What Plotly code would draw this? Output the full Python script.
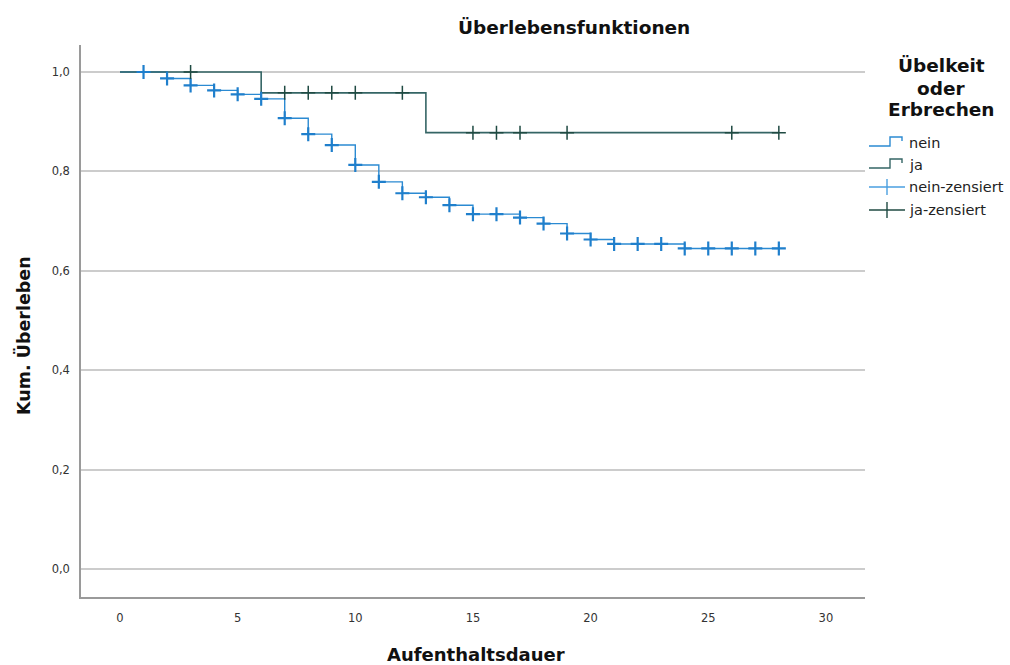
import plotly.graph_objects as go

# ---- data ----
nein_times = [0, 2, 3, 4, 5, 6, 7, 8, 9, 10, 11, 12, 13, 14, 15, 17, 18, 19, 20, 21, 24]
nein_surv = [1.0, 0.987, 0.973, 0.963, 0.955, 0.946, 0.907, 0.875, 0.853, 0.813, 0.779,
             0.756, 0.748, 0.732, 0.714, 0.707, 0.695, 0.675, 0.663, 0.654, 0.645]
nein_end = 28
nein_censored = [1, 2, 3, 4, 5, 6, 7, 8, 9, 10, 11, 12, 13, 14, 15, 16, 17, 18, 19, 20,
                 21, 22, 23, 24, 25, 26, 27, 28]

ja_times = [0, 6, 13]
ja_surv = [1.0, 0.958, 0.878]
ja_end = 28
ja_censored = [3, 7, 8, 9, 10, 12, 15, 16, 17, 19, 26, 28]

x_ticks = [0, 5, 10, 15, 20, 25, 30]
y_ticks = [0.0, 0.2, 0.4, 0.6, 0.8, 1.0]
legend_labels = ["nein", "ja", "nein-zensiert", "ja-zensiert"]

C_NEIN = "#2b8ad2"
C_NEIN_M = "#1f7fcc"
C_JA = "#356565"
C_JA_M = "#1f4a42"
FONT = "DejaVu Sans"


def surv_at(times, surv, t):
    val = surv[0]
    for ti, si in zip(times, surv):
        if ti <= t:
            val = si
    return val


fig = go.Figure()
fig.add_trace(go.Scatter(x=nein_times + [nein_end], y=nein_surv + [nein_surv[-1]],
                         mode="lines", line=dict(color=C_NEIN, width=1.4, shape="hv"),
                         name="nein", showlegend=False, hoverinfo="skip"))
fig.add_trace(go.Scatter(x=ja_times + [ja_end], y=ja_surv + [ja_surv[-1]],
                         mode="lines", line=dict(color=C_JA, width=1.6, shape="hv"),
                         name="ja", showlegend=False, hoverinfo="skip"))
fig.add_trace(go.Scatter(x=nein_censored,
                         y=[surv_at(nein_times, nein_surv, t) for t in nein_censored],
                         mode="markers",
                         marker=dict(symbol="cross-thin", size=10,
                                     line=dict(color=C_NEIN_M, width=2.2)),
                         name="nein-zensiert", showlegend=False))
fig.add_trace(go.Scatter(x=ja_censored,
                         y=[surv_at(ja_times, ja_surv, t) for t in ja_censored],
                         mode="markers",
                         marker=dict(symbol="cross-thin", size=10,
                                     line=dict(color=C_JA_M, width=1.5)),
                         name="ja-zensiert", showlegend=False))

# plot area in pixels
L, R, T, B = 81, 865, 45, 597
W, H = 1010, 665


def px(xp):
    return (xp - L) / (R - L)


def py(yp):
    return (B - yp) / (B - T)


shapes = []
annotations = []

# legend title
for i, line in enumerate(["Übelkeit", "oder", "Erbrechen"]):
    annotations.append(dict(x=px(941), y=py(66 + 22 * i), xref="paper", yref="paper",
                            text=f"<b>{line}</b>", showarrow=False,
                            font=dict(family=FONT, size=18.5, color="#111111"),
                            xanchor="center", yanchor="middle"))

# legend items
item_y = [143, 165, 187, 210]
icon_cols = [C_NEIN, C_JA, "#4a9fe0", C_JA_M]
for i, (lab, yy, col) in enumerate(zip(legend_labels, item_y, icon_cols)):
    annotations.append(dict(x=px(907), y=py(yy), xref="paper", yref="paper",
                            text=lab, showarrow=False,
                            font=dict(family=FONT, size=14.5, color="#222222"),
                            xanchor="left", yanchor="middle"))
    if i < 2:
        path = (f"M {px(869)},{py(yy + 3)} L {px(890)},{py(yy + 3)} "
                f"L {px(890)},{py(yy - 6)} L {px(902)},{py(yy - 6)} L {px(902)},{py(yy - 2)}")
        shapes.append(dict(type="path", path=path, xref="paper", yref="paper",
                           line=dict(color=col, width=1.4)))
    else:
        shapes.append(dict(type="line", x0=px(869), x1=px(905), y0=py(yy), y1=py(yy),
                           xref="paper", yref="paper", line=dict(color=col, width=1.4)))
        shapes.append(dict(type="line", x0=px(887), x1=px(887), y0=py(yy - 8), y1=py(yy + 8),
                           xref="paper", yref="paper", line=dict(color=col, width=1.4)))

# title
annotations.append(dict(x=px(574), y=py(28), xref="paper", yref="paper",
                        text="<b>Überlebensfunktionen</b>", showarrow=False,
                        font=dict(family=FONT, size=18.5, color="#111111"),
                        xanchor="center", yanchor="middle"))
# axis titles
annotations.append(dict(x=px(476), y=py(654), xref="paper", yref="paper",
                        text="<b>Aufenthaltsdauer</b>", showarrow=False,
                        font=dict(family=FONT, size=18, color="#111111"),
                        xanchor="center", yanchor="middle"))
annotations.append(dict(x=px(23), y=py(336), xref="paper", yref="paper",
                        text="<b>Kum. Überleben</b>", showarrow=False, textangle=-90,
                        font=dict(family=FONT, size=17.5, color="#111111"),
                        xanchor="center", yanchor="middle"))

x0 = -39 / 23.53
x1 = (865 - 120) / 23.53
y_top = 1 + (72 - 45) / 497
y_bot = -(597 - 569) / 497

fig.update_layout(
    width=W, height=H,
    margin=dict(l=L, r=W - R, t=T, b=H - B, pad=0),
    paper_bgcolor="white", plot_bgcolor="white",
    separators=",.",
    font=dict(family=FONT, size=11, color="#333333"),
    shapes=shapes, annotations=annotations,
    xaxis=dict(range=[x0, x1], tickvals=x_ticks, showgrid=False, zeroline=False,
               showline=True, linecolor="#9a9a9a", linewidth=1.5,
               ticks="outside", ticklen=9, tickcolor="rgba(0,0,0,0)",
               tickfont=dict(family=FONT, size=11.5, color="#333333")),
    yaxis=dict(range=[y_bot, y_top], tickvals=y_ticks, tickformat=".1f",
               showgrid=True, gridcolor="#cccccc", gridwidth=1.5, zeroline=False,
               showline=True, linecolor="#9a9a9a", linewidth=1.5,
               ticks="outside", ticklen=7, tickcolor="rgba(0,0,0,0)",
               tickfont=dict(family=FONT, size=11.5, color="#333333")),
)

fig.write_html("out.html",
               config={"displayModeBar": False},
               post_script="document.body.style.margin='0px';document.body.style.padding='0px';"
                           "document.documentElement.style.overflow='hidden';")
